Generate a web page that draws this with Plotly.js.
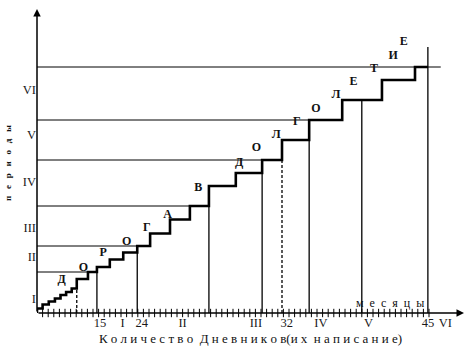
<!DOCTYPE html>
<html><head><meta charset="utf-8">
<script src="https://cdn.plot.ly/plotly-3.0.1.min.js"></script>
<style>html,body{margin:0;padding:0;background:#fff}</style>
</head><body><div id="chart" style="width:470px;height:354px"></div>
<script>
// Staircase: x = time (tick units), y = level
const stepX = [0, 0, 1.0, 2.1, 3.2, 4.2, 5.2, 6.2, 7.1, 9.1, 10.7, 13.0, 15.4, 17.9, 20.2, 23.75, 27.3, 30.7, 35.5, 40.2, 43.75, 48.6, 54.5, 61.6, 67.5, 69.8];
const stepY = [0, 0.45, 0.85, 1.15, 1.45, 1.8, 2.1, 2.45, 3.4, 4.1, 4.6, 5.35, 6.05, 6.7, 7.95, 9.35, 10.7, 12.7, 14.0, 15.3, 17.3, 19.3, 21.3, 23.3, 24.6, 24.6];

// Letters "ДОРОГА В ДОЛГОЛЕТИЕ"
const letters = ['Д','О','Р','О','Г','А','В','Д','О','Л','Г','О','Л','Е','Т','И','Е'];
const letterX = [4.4, 8.3, 11.8, 16.0, 19.6, 23.3, 28.8, 36.1, 39.2, 42.7, 46.4, 49.8, 53.4, 56.5, 60.2, 63.6, 65.5];
const letterY = [3.3, 4.47, 5.97, 7.13, 8.47, 9.8, 12.47, 15.03, 16.5, 17.8, 19.13, 20.45, 21.8, 23.13, 24.37, 25.73, 27.07];

// Period boundaries (horizontal lines)
const boundY = [4.1, 6.7, 10.7, 15.3, 19.3, 24.6];
const boundEnd = [10.7, 17.9, 27.3, 40.2, 48.6, 72.1];

// Period labels on y axis
const periodLabels = ['I','II','III','IV','V','VI'];
const periodLabelY = [1.47, 5.63, 8.57, 13.13, 17.8, 22.37];

// Vertical markers
const solidX = [10.7, 17.9, 30.7, 40.2, 48.6, 58.0, 69.8];
const solidTop = [4.1, 6.7, 12.7, 15.3, 19.3, 21.3, 26.6];
const dashedX = [7.1, 43.75];
const dashedTop = [2.45, 17.3];

// x axis labels (diary counts and months)
const xTickVals = [11.25, 15.3, 18.7, 26.0, 39.1, 44.6, 50.7, 59.2, 69.8, 72.9];
const xTickText = ['15','I','24','II','III','32','IV','V','45','VI'];
const nMinorTicks = 70;

function segs(xs, tops, horiz, ends) {
  const X = [], Y = [];
  xs.forEach((v, i) => {
    if (horiz) { X.push(0, ends[i], null); Y.push(v, v, null); }
    else { X.push(v, v, null); Y.push(0, tops[i], null); }
  });
  return {X, Y};
}
const hb = segs(boundY, null, true, boundEnd);
const vs = segs(solidX, solidTop, false);
const vd = segs(dashedX, dashedTop, false);
const tickXs = [];
for (let k = 1; k <= nMinorTicks; k++) tickXs.push(k);

const serif = 'Liberation Serif, Times New Roman, serif';

const traces = [
  {x: hb.X, y: hb.Y, mode: 'lines', line: {color: '#000', width: 1}, hoverinfo: 'skip'},
  {x: vs.X, y: vs.Y, mode: 'lines', line: {color: '#000', width: 1.3}, hoverinfo: 'skip'},
  {x: vd.X, y: vd.Y, mode: 'lines', line: {color: '#000', width: 1.3, dash: '3px,2px'}, hoverinfo: 'skip'},
  {x: stepX, y: stepY, mode: 'lines', line: {color: '#000', width: 2.6, shape: 'hv'}, hoverinfo: 'skip'},
  {x: tickXs, y: tickXs.map(() => 0), mode: 'markers', cliponaxis: false,
   marker: {symbol: 'line-ns-open', size: 6, color: '#000', line: {color: '#000', width: 1}}, hoverinfo: 'skip'},
  {x: letterX, y: letterY, mode: 'text', text: letters, cliponaxis: false,
   textfont: {family: serif, size: 12, color: '#111', weight: 'bold'}, hoverinfo: 'skip'}
];

const layout = {
  width: 470, height: 354,
  margin: {l: 37, r: 6, t: 13, b: 41},
  paper_bgcolor: '#fff', plot_bgcolor: '#fff',
  showlegend: false,
  xaxis: {
    range: [0, 76.25], showgrid: false, zeroline: false, showline: false,
    tickmode: 'array', tickvals: xTickVals, ticktext: xTickText, ticks: '',
    tickfont: {family: serif, size: 12.5, color: '#1a1a1a'},
    title: {text: 'К о л и ч е с т в о \u00a0Д н е в н и к о в(и х \u00a0н а п и с а н и е)',
            font: {family: serif, size: 13, color: '#111'}, standoff: 5}
  },
  yaxis: {
    range: [0, 30], showgrid: false, zeroline: false, showline: false,
    tickmode: 'array', tickvals: periodLabelY, ticktext: periodLabels, ticks: '',
    tickfont: {family: serif, size: 12.5, color: '#1a1a1a'},
    title: {text: '<b>п\u00a0\u00a0\u00a0е\u00a0\u00a0\u00a0р\u00a0\u00a0\u00a0и\u00a0\u00a0\u00a0о\u00a0\u00a0\u00a0д\u00a0\u00a0\u00a0ы</b>',
            font: {family: serif, size: 9, color: '#111'}, standoff: 9}
  },
  annotations: [
    {x: 76.25, y: 0, ax: 0, ay: 0, xref: 'x', yref: 'y', axref: 'x', ayref: 'y',
     showarrow: true, arrowhead: 2, arrowsize: 1, arrowwidth: 1.5, arrowcolor: '#000', text: ''},
    {x: 0, y: 30.4, ax: 0, ay: 0, xref: 'x', yref: 'y', axref: 'x', ayref: 'y',
     showarrow: true, arrowhead: 2, arrowsize: 1, arrowwidth: 1.5, arrowcolor: '#000', text: ''},
    {x: 63.0, y: 1.0, xref: 'x', yref: 'y', showarrow: false,
     text: 'м\u00a0\u00a0е\u00a0\u00a0с\u00a0\u00a0я\u00a0\u00a0ц\u00a0\u00a0ы',
     font: {family: serif, size: 12, color: '#111'}}
  ]
};

Plotly.newPlot('chart', traces, layout, {displayModeBar: false, staticPlot: true});
</script>
</body></html>
